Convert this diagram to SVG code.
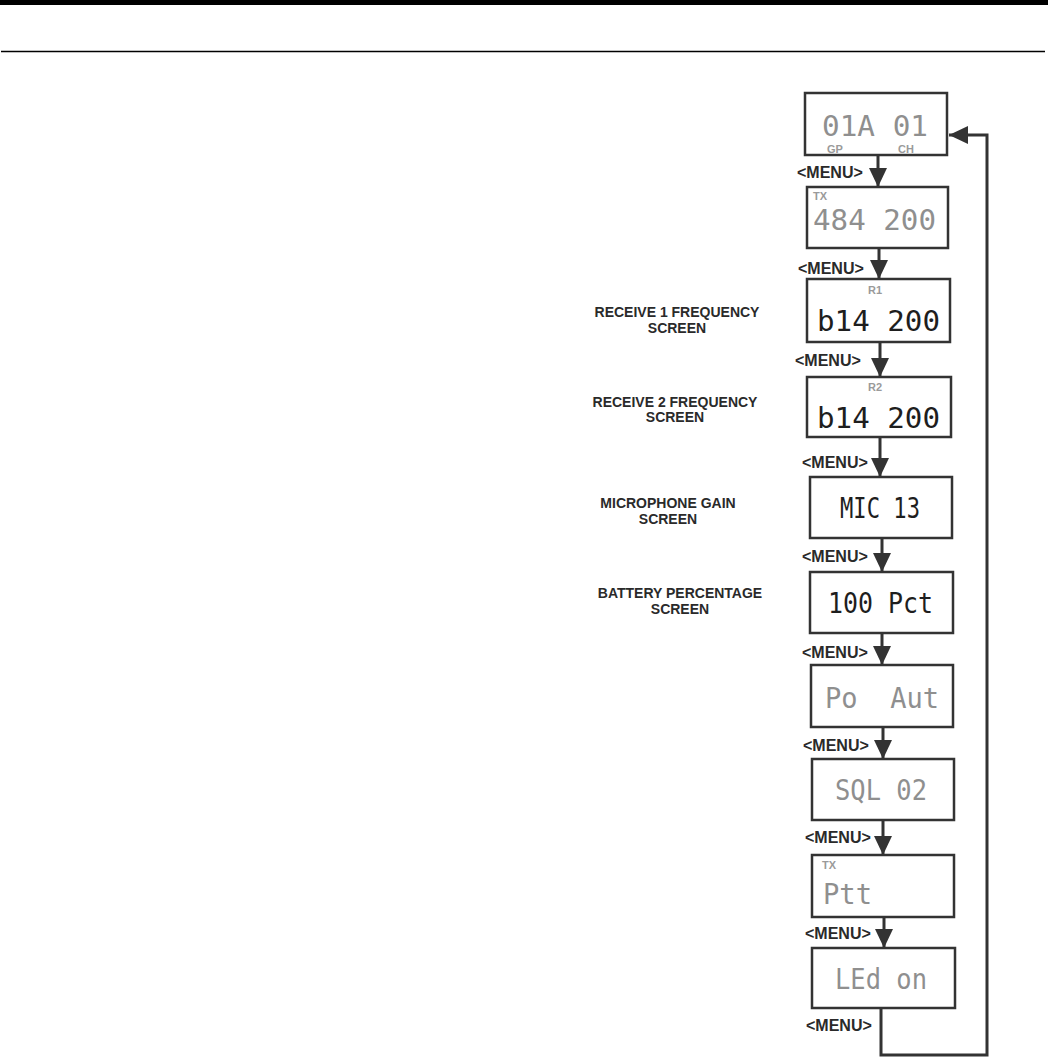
<svg xmlns="http://www.w3.org/2000/svg" width="1048" height="1058" viewBox="0 0 1048 1058">
<style>
.box{fill:#fff;stroke:#333;stroke-width:2.5}
.menu{font-family:"Liberation Sans",Arial,sans-serif;font-weight:bold;font-size:16px;fill:#2a2a2a}
.lbl{font-family:"Liberation Sans",Arial,sans-serif;font-weight:bold;font-size:14px;fill:#2a2a2a;text-anchor:middle}
.lcd{font-family:"DejaVu Sans Mono","Liberation Mono",monospace;font-size:28px;white-space:pre}
.g{fill:#8f8f8f}
.d{fill:#1e1e1e}
.tag{font-family:"Liberation Sans",Arial,sans-serif;font-weight:bold;font-size:11px;fill:#9a9a9a}
.conn{fill:none;stroke:#333;stroke-width:3}
</style>
<defs>
<marker id="ah" markerUnits="userSpaceOnUse" markerWidth="19" markerHeight="18" viewBox="0 0 19 18" refX="19" refY="9" orient="auto">
<path d="M0,0 L19,9 L0,18 z" fill="#333"/>
</marker>
</defs>
<rect x="0" y="0" width="1048" height="5" fill="#000"/>
<line x1="1" y1="51.5" x2="1045" y2="51.5" stroke="#000" stroke-width="1.5"/>

<g id="labels">
<text class="lbl" x="677" y="317">RECEIVE 1 FREQUENCY</text>
<text class="lbl" x="677" y="333">SCREEN</text>
<text class="lbl" x="675" y="407">RECEIVE 2 FREQUENCY</text>
<text class="lbl" x="675" y="422">SCREEN</text>
<text class="lbl" x="668" y="508">MICROPHONE GAIN</text>
<text class="lbl" x="668" y="524">SCREEN</text>
<text class="lbl" x="680" y="598">BATTERY PERCENTAGE</text>
<text class="lbl" x="680" y="614">SCREEN</text>
</g>

<g id="connectors">
<line class="conn" x1="878" y1="155" x2="878" y2="187" marker-end="url(#ah)"/>
<line class="conn" x1="879" y1="248" x2="879" y2="279" marker-end="url(#ah)"/>
<line class="conn" x1="880" y1="342" x2="880" y2="377" marker-end="url(#ah)"/>
<line class="conn" x1="880" y1="437" x2="880" y2="477" marker-end="url(#ah)"/>
<line class="conn" x1="882" y1="538" x2="882" y2="572" marker-end="url(#ah)"/>
<line class="conn" x1="882" y1="633" x2="882" y2="665" marker-end="url(#ah)"/>
<line class="conn" x1="883" y1="727" x2="883" y2="759" marker-end="url(#ah)"/>
<line class="conn" x1="883" y1="820" x2="883" y2="855" marker-end="url(#ah)"/>
<line class="conn" x1="884" y1="917" x2="884" y2="948" marker-end="url(#ah)"/>
<path class="conn" d="M881,1008 V1055 H987 V135 H949" marker-end="url(#ah)"/>
<text class="menu" x="797" y="178">&lt;MENU&gt;</text>
<text class="menu" x="798" y="274">&lt;MENU&gt;</text>
<text class="menu" x="795" y="366">&lt;MENU&gt;</text>
<text class="menu" x="802" y="468">&lt;MENU&gt;</text>
<text class="menu" x="802" y="562">&lt;MENU&gt;</text>
<text class="menu" x="802" y="658">&lt;MENU&gt;</text>
<text class="menu" x="803" y="751">&lt;MENU&gt;</text>
<text class="menu" x="805" y="843">&lt;MENU&gt;</text>
<text class="menu" x="805" y="939">&lt;MENU&gt;</text>
<text class="menu" x="806" y="1031">&lt;MENU&gt;</text>
</g>

<g id="screen-group-channel">
<rect class="box" x="805" y="93" width="142" height="62"/>
<text class="lcd g" x="822" y="136" textLength="106" lengthAdjust="spacingAndGlyphs">01A 01</text>
<text class="tag" x="827" y="153">GP</text>
<text class="tag" x="898" y="153">CH</text>
</g>

<g id="screen-tx-frequency">
<rect class="box" x="807" y="187" width="141" height="61"/>
<text class="tag" x="813" y="200">TX</text>
<text class="lcd g" x="813" y="230" textLength="123" lengthAdjust="spacingAndGlyphs">484 200</text>
</g>

<g id="screen-receive-1">
<rect class="box" x="807" y="279" width="143" height="63"/>
<text class="tag" x="868" y="294">R1</text>
<text class="lcd d" x="817" y="331" textLength="123" lengthAdjust="spacingAndGlyphs">b14 200</text>
</g>

<g id="screen-receive-2">
<rect class="box" x="807" y="377" width="144" height="60"/>
<text class="tag" x="868" y="391">R2</text>
<text class="lcd d" x="817" y="428" textLength="123" lengthAdjust="spacingAndGlyphs">b14 200</text>
</g>

<g id="screen-mic-gain">
<rect class="box" x="810" y="477" width="142" height="61"/>
<text class="lcd d" x="840" y="518" textLength="80" lengthAdjust="spacingAndGlyphs">MIC 13</text>
</g>

<g id="screen-battery">
<rect class="box" x="810" y="572" width="143" height="61"/>
<text class="lcd d" x="828" y="613" textLength="105" lengthAdjust="spacingAndGlyphs">100 Pct</text>
</g>

<g id="screen-power-off">
<rect class="box" x="811" y="665" width="142" height="62"/>
<text class="lcd g" x="825" y="708" textLength="114" lengthAdjust="spacingAndGlyphs">Po  Aut</text>
</g>

<g id="screen-squelch">
<rect class="box" x="812" y="759" width="142" height="61"/>
<text class="lcd g" x="835" y="800" textLength="92" lengthAdjust="spacingAndGlyphs">SQL 02</text>
</g>

<g id="screen-ptt">
<rect class="box" x="812" y="855" width="142" height="62"/>
<text class="tag" x="822" y="869">TX</text>
<text class="lcd g" x="823" y="904" textLength="49" lengthAdjust="spacingAndGlyphs">Ptt</text>
</g>

<g id="screen-led">
<rect class="box" x="812" y="948" width="143" height="60"/>
<text class="lcd g" x="835" y="989" textLength="92" lengthAdjust="spacingAndGlyphs">LEd on</text>
</g>
</svg>
